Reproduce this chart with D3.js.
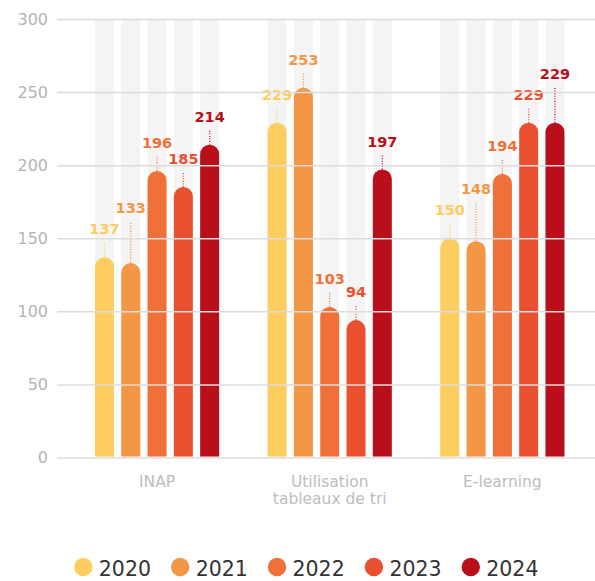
<!DOCTYPE html>
<html>
<head>
<meta charset="utf-8">
<script src="https://cdn.jsdelivr.net/npm/d3@7"></script>
<style>
  html, body { margin: 0; padding: 0; background: #fff; }
  svg { display: block; }
</style>
</head>
<body>
<svg id="chart" width="595" height="581"></svg>
<script>
// data
const categories = ["INAP", "Utilisation\ntableaux de tri", "E-learning"];
const years = ["2020", "2021", "2022", "2023", "2024"];
const values2020 = [137, 229, 150];
const values2021 = [133, 253, 148];
const values2022 = [196, 103, 194];
const values2023 = [185, 94, 229];
const values2024 = [214, 197, 229];
const yTicks = [0, 50, 100, 150, 200, 250, 300];
const colors = ["#fdcd60", "#f39645", "#ef7139", "#e8502f", "#b80f1a"];

const series = [values2020, values2021, values2022, values2023, values2024];

const svg = d3.select("#chart");
const W = 595;
const margin = {left: 57, top: 19, bottom: 457.5};

const x0 = d3.scaleBand().domain(categories).range([70.7, 588.7]);
const x1 = d3.scaleBand().domain(years).range([24.25, 148.45]).paddingInner(0.2776);
const y = d3.scaleLinear().domain([0, 300]).range([margin.bottom, margin.top]);
const color = d3.scaleOrdinal().domain(years).range(colors);

const rows = categories.map((c, ci) => ({
    cat: c,
    bars: years.map((yr, i) => ({cat: c, year: yr, value: series[i][ci]}))
}));

const groups = svg.append("g").selectAll("g")
    .data(rows)
    .join("g")
    .attr("transform", d => `translate(${x0(d.cat)},0)`);

// grey background columns
groups.selectAll("rect.band")
    .data(d => d.bars)
    .join("rect")
    .attr("class", "band")
    .attr("x", d => x1(d.year))
    .attr("width", x1.bandwidth())
    .attr("y", y(300) + 1)
    .attr("height", y(0) - y(300) - 1)
    .attr("fill", "#f4f4f4");

// y axis + gridlines
const yAxis = svg.append("g")
    .attr("transform", `translate(${margin.left},0)`)
    .call(d3.axisLeft(y).tickValues(yTicks).tickSize(-(W - margin.left)).tickPadding(9));
yAxis.select(".domain").remove();
yAxis.selectAll(".tick line").attr("stroke", "#dcdcdc").attr("stroke-width", 1.5);
yAxis.selectAll(".tick text")
    .attr("fill", "#b4b4b4")
    .attr("font-family", "DejaVu Sans")
    .attr("font-size", 16);

// bars with round tops
const bw = x1.bandwidth(), r = bw / 2;
function barPath(d) {
    const xl = x1(d.year), top = y(d.value), base = y(0) - 1;
    return `M${xl},${base}V${top + r}A${r},${r} 0 0 1 ${xl + bw},${top + r}V${base}Z`;
}
groups.selectAll("path.bar")
    .data(d => d.bars)
    .join("path")
    .attr("class", "bar")
    .attr("d", barPath)
    .attr("fill", d => color(d.year));

// label placement: lift a label over its left neighbour when they would collide
rows.forEach(row => {
    let prev = null;
    row.bars.forEach(b => {
        b.ly = y(b.value) - 23;
        if (prev !== null && Math.abs(b.ly - prev) < 12) b.ly = prev - 21;
        prev = b.ly;
    });
});

groups.selectAll("line.leader")
    .data(d => d.bars)
    .join("line")
    .attr("class", "leader")
    .attr("x1", d => x1(d.year) + bw / 2)
    .attr("x2", d => x1(d.year) + bw / 2)
    .attr("y1", d => y(d.value))
    .attr("y2", d => d.ly + 8)
    .attr("stroke", d => color(d.year))
    .attr("stroke-width", 1.3)
    .attr("stroke-dasharray", "1,1.6");

groups.selectAll("text.val")
    .data(d => d.bars)
    .join("text")
    .attr("class", "val")
    .attr("x", d => x1(d.year) + bw / 2)
    .attr("y", d => d.ly)
    .attr("text-anchor", "middle")
    .attr("font-family", "DejaVu Sans")
    .attr("font-weight", "bold")
    .attr("font-size", 14.5)
    .attr("fill", d => color(d.year))
    .text(d => d.value);

// category labels
const xAxis = svg.append("g")
    .attr("transform", `translate(0,${y(0)})`)
    .call(d3.axisBottom(x0).tickSize(0).tickFormat(""));
xAxis.select(".domain").remove();
xAxis.selectAll(".tick text").remove();
xAxis.selectAll(".tick")
    .append("text")
    .attr("fill", "#bdbdbd")
    .attr("font-family", "DejaVu Sans")
    .attr("font-size", 15.5)
    .attr("text-anchor", "middle")
    .selectAll("tspan")
    .data(d => d.split("\n"))
    .join("tspan")
    .attr("x", 0)
    .attr("y", (_, i) => 29.5 + i * 16.5)
    .text(d => d);

// legend
const legend = svg.append("g").attr("transform", "translate(0,567)");
let cx = 83.3;
years.forEach(yr => {
    legend.append("circle")
        .attr("cx", cx)
        .attr("cy", 0)
        .attr("r", 9.2)
        .attr("fill", color(yr));
    const t = legend.append("text")
        .attr("x", cx + 15.5)
        .attr("y", 9)
        .attr("font-family", "DejaVu Sans")
        .attr("font-size", 20.5)
        .attr("fill", "#333")
        .text(yr);
    cx = cx + 15.5 + t.node().getComputedTextLength() + 20 + 9.2;
});
</script>
</body>
</html>
